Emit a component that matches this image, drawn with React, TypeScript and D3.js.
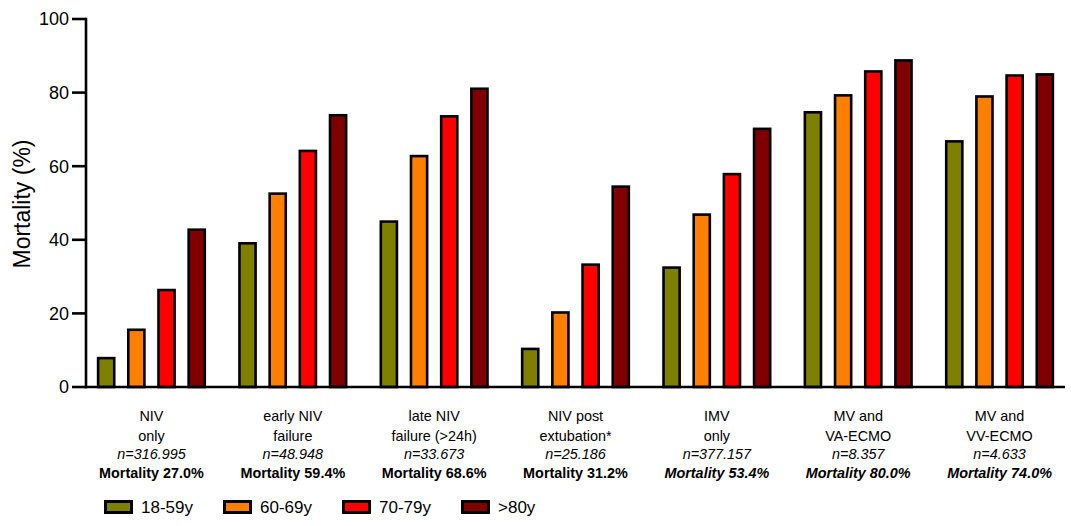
import React from "react";
import * as d3 from "d3";

const categoryLine1 = ["NIV", "early NIV", "late NIV", "NIV post", "IMV", "MV and", "MV and"];
const categoryLine2 = ["only", "failure", "failure (>24h)", "extubation*", "only", "VA-ECMO", "VV-ECMO"];
const categoryN = ["n=316.995", "n=48.948", "n=33.673", "n=25.186", "n=377.157", "n=8.357", "n=4.633"];
const categoryMortality = ["Mortality 27.0%", "Mortality 59.4%", "Mortality 68.6%", "Mortality 31.2%", "Mortality 53.4%", "Mortality 80.0%", "Mortality 74.0%"];
const mortalityItalic = [false, false, false, false, true, true, true];

const seriesNames = ["18-59y", "60-69y", "70-79y", ">80y"];
const seriesColors = ["#808000", "#FF8000", "#FF0000", "#800000"];

const age18to59 = [8.2, 39.4, 45.3, 10.7, 32.8, 75.0, 67.1];
const age60to69 = [15.9, 52.9, 63.1, 20.6, 47.2, 79.6, 79.3];
const age70to79 = [26.7, 64.5, 73.9, 33.6, 58.2, 86.1, 85.0];
const age80plus = [43.1, 74.2, 81.4, 54.8, 70.5, 89.1, 85.3];
const seriesValues = [age18to59, age60to69, age70to79, age80plus];

const yTicks = [0, 20, 40, 60, 80, 100];

const W = 1071;
const H = 526;
const FONT = "'Liberation Sans', Arial, Helvetica, sans-serif";

export default function App() {
  const x0 = 86;
  const x1 = 1065;
  const yBase = 387;
  const yTop = 19;

  const y = d3.scaleLinear().domain([0, 100]).range([yBase, yTop]);
  const xGroup = d3
    .scaleBand<number>()
    .domain(d3.range(categoryLine1.length))
    .range([x0, x1])
    .paddingInner(0.227)
    .paddingOuter(0.0765);
  const xInner = d3
    .scaleBand<number>()
    .domain(d3.range(seriesNames.length))
    .range([0, xGroup.bandwidth()])
    .paddingInner(0.38)
    .paddingOuter(0);

  const sw = 2.6;

  return (
    <svg width={W} height={H} style={{ position: "absolute", left: 0, top: 0, background: "#fff" }} fontFamily={FONT}>
      <rect x={0} y={0} width={W} height={H} fill="#fff" />
      {/* bars */}
      {seriesValues.map((vals, s) =>
        vals.map((v, g) => {
          const bx = (xGroup(g) as number) + (xInner(s) as number);
          const bw = xInner.bandwidth();
          return (
            <rect
              key={`b-${s}-${g}`}
              x={bx + sw / 2}
              y={y(v) + sw / 2}
              width={bw - sw}
              height={yBase - y(v) - sw / 2}
              fill={seriesColors[s]}
              stroke="#000"
              strokeWidth={sw}
            />
          );
        })
      )}
      {/* y axis */}
      <line x1={x0} x2={x0} y1={y(100) - 1.2} y2={yBase + 1.2} stroke="#000" strokeWidth={2.6} />
      {yTicks.map((t) => (
        <g key={`t-${t}`}>
          <line x1={x0 - 14} x2={x0} y1={y(t)} y2={y(t)} stroke="#000" strokeWidth={2.6} />
          <text x={x0 - 17} y={y(t)} dy="0.36em" textAnchor="end" fontSize={18} fill="#000">
            {t}
          </text>
        </g>
      ))}
      {/* x axis */}
      <line x1={x0 - 1.2} x2={x1} y1={yBase} y2={yBase} stroke="#000" strokeWidth={2.6} />
      {/* y label */}
      <text
        transform={`translate(30,${(y(100) + yBase) / 2 + 1}) rotate(-90)`}
        textAnchor="middle"
        fontSize={23}
        fill="#000"
      >
        Mortality (%)
      </text>
      {/* category labels */}
      {categoryLine1.map((c, g) => {
        const cx = (xGroup(g) as number) + xGroup.bandwidth() / 2;
        return (
          <g key={`c-${g}`} fontSize={14.4} fill="#000" textAnchor="middle">
            <text x={cx} y={421}>{c}</text>
            <text x={cx} y={440.5}>{categoryLine2[g]}</text>
            <text x={cx} y={459} fontStyle="italic">{categoryN[g]}</text>
            <text x={cx} y={477.5} fontWeight="bold" fontStyle={mortalityItalic[g] ? "italic" : "normal"}>
              {categoryMortality[g]}
            </text>
          </g>
        );
      })}
      {/* legend */}
      {seriesNames.map((n, i) => {
        const lx = 104 + i * 119;
        return (
          <g key={`l-${i}`}>
            <rect x={lx + 1.5} y={501.5} width={26} height={11} fill={seriesColors[i]} stroke="#000" strokeWidth={3} />
            <text x={lx + 37} y={507} dy="0.36em" fontSize={17} fill="#000">
              {n}
            </text>
          </g>
        );
      })}
    </svg>
  );
}
